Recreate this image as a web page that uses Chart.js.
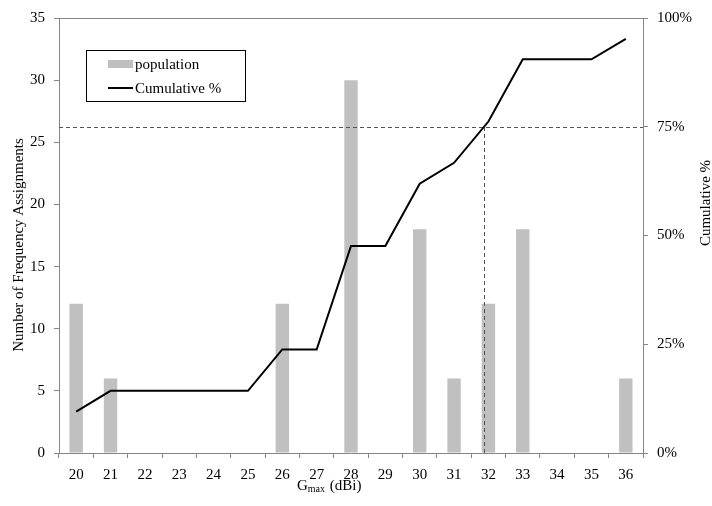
<!DOCTYPE html>
<html>
<head>
<meta charset="utf-8">
<script src="https://cdn.jsdelivr.net/npm/chart.js@4"></script>
<style>
  html, body { margin: 0; padding: 0; background: #fff; }
  #wrap { width: 712px; height: 506px; }
</style>
</head>
<body>
<div id="wrap"><canvas id="chart" width="712" height="506"></canvas></div>
<script>
// G_max categories (dBi)
const categories = ['20', '21', '22', '23', '24', '25', '26', '27', '28', '29', '30', '31', '32', '33', '34', '35', '36'];
// population bars (number of frequency assignments)
const population = [12, 6, 0, 0, 0, 0, 12, 0, 30, 0, 18, 6, 12, 18, 0, 0, 6];
// cumulative % line
const cumulative = [9.5, 14.3, 14.3, 14.3, 14.3, 14.3, 23.8, 23.8, 47.6, 47.6, 61.9, 66.7, 76.2, 90.5, 90.5, 90.5, 95.2];
// reference level and where the cumulative curve crosses it (category index)
const refPercent = 75;
const refCrossIndex = 11.875;

const FONT = "'Liberation Serif', 'Times New Roman', serif";
const AXIS_GRAY = '#868686';

// dashed 75% guide lines, drawn right after the bars
const guideLines = {
  id: 'guideLines',
  afterDatasetDraw(chart, args) {
    if (args.index !== 0) return;
    const { ctx, chartArea: a, scales } = chart;
    const y = scales.y1.getPixelForValue(refPercent);
    const x = scales.x.getPixelForValue(refCrossIndex);
    ctx.save();
    ctx.strokeStyle = '#555';
    ctx.lineWidth = 1;
    ctx.setLineDash([4, 3]);
    ctx.beginPath();
    ctx.moveTo(a.left, Math.round(y) + 0.5);
    ctx.lineTo(a.right, Math.round(y) + 0.5);
    ctx.moveTo(Math.round(x) + 0.5, Math.round(y));
    ctx.lineTo(Math.round(x) + 0.5, a.bottom);
    ctx.stroke();
    ctx.restore();
  }
};

// top border, axis titles and the boxed legend
const decorations = {
  id: 'decorations',
  afterDraw(chart) {
    const { ctx, chartArea: a } = chart;
    ctx.save();
    ctx.strokeStyle = AXIS_GRAY;
    ctx.lineWidth = 1;
    ctx.beginPath();
    ctx.moveTo(a.left, a.top + 0.5);
    ctx.lineTo(a.right, a.top + 0.5);
    ctx.stroke();

    ctx.fillStyle = '#000';
    ctx.font = '15px ' + FONT;
    ctx.textBaseline = 'alphabetic';

    // left title
    ctx.save();
    ctx.translate(23, 245);
    ctx.rotate(-Math.PI / 2);
    ctx.textAlign = 'center';
    ctx.fillText('Number of Frequency Assignments', 0, 0);
    ctx.restore();

    // right title
    ctx.save();
    ctx.translate(710, 203);
    ctx.rotate(-Math.PI / 2);
    ctx.textAlign = 'center';
    ctx.fillText('Cumulative %', 0, 0);
    ctx.restore();

    // x title with subscript
    ctx.textAlign = 'left';
    let tx = 297;
    const ty = 490;
    ctx.fillText('G', tx, ty);
    tx += ctx.measureText('G').width;
    ctx.font = '10px ' + FONT;
    ctx.fillText('max', tx, ty + 2);
    tx += ctx.measureText('max').width + 1;
    ctx.font = '15px ' + FONT;
    ctx.fillText(' (dBi)', tx, ty);

    // legend
    const lx = 86.5, ly = 50.5, lw = 159, lh = 51;
    ctx.fillStyle = '#fff';
    ctx.fillRect(lx, ly, lw, lh);
    ctx.strokeStyle = '#000';
    ctx.strokeRect(lx, ly, lw, lh);
    const ds = chart.data.datasets;
    ctx.fillStyle = ds[0].backgroundColor;
    ctx.fillRect(108, 60, 25, 8);
    ctx.strokeStyle = ds[1].borderColor;
    ctx.lineWidth = 2;
    ctx.beginPath();
    ctx.moveTo(108, 88);
    ctx.lineTo(133, 88);
    ctx.stroke();
    ctx.fillStyle = '#000';
    ctx.fillText(ds[0].label, 135, 69);
    ctx.fillText(ds[1].label, 135, 93);
    ctx.restore();
  }
};

new Chart(document.getElementById('chart'), {
  data: {
    labels: categories,
    datasets: [
      {
        type: 'bar',
        label: 'population',
        data: population,
        backgroundColor: '#c0c0c0',
        borderWidth: 0,
        barPercentage: 0.39,
        categoryPercentage: 1,
        yAxisID: 'y',
        order: 2
      },
      {
        type: 'line',
        label: 'Cumulative %',
        data: cumulative,
        borderColor: '#000',
        borderWidth: 2,
        pointRadius: 0,
        tension: 0,
        fill: false,
        yAxisID: 'y1',
        order: 1
      }
    ]
  },
  options: {
    responsive: false,
    animation: false,
    layout: { padding: { top: 18, left: 0, right: 0, bottom: 0 } },
    plugins: {
      legend: { display: false },
      tooltip: { enabled: false }
    },
    scales: {
      x: {
        offset: true,
        grid: { offset: true, drawOnChartArea: false, tickLength: 5, color: AXIS_GRAY },
        border: { color: AXIS_GRAY },
        ticks: { color: '#000', font: { family: FONT, size: 15 }, padding: 8, maxRotation: 0, autoSkip: false },
        afterFit(s) { s.height = 53; }
      },
      y: {
        position: 'left',
        min: 0,
        max: 35,
        ticks: { stepSize: 5, color: '#000', font: { family: FONT, size: 15 }, padding: 9 },
        grid: { drawOnChartArea: false, tickLength: 5, color: AXIS_GRAY },
        border: { color: AXIS_GRAY },
        afterFit(s) { s.width = 59; }
      },
      y1: {
        position: 'right',
        min: 0,
        max: 100,
        ticks: { stepSize: 25, color: '#000', font: { family: FONT, size: 15 }, padding: 9, callback: v => v + '%' },
        grid: { drawOnChartArea: false, tickLength: 5, color: AXIS_GRAY },
        border: { color: AXIS_GRAY },
        afterFit(s) { s.width = 69; }
      }
    }
  },
  plugins: [guideLines, decorations]
});
</script>
</body>
</html>
